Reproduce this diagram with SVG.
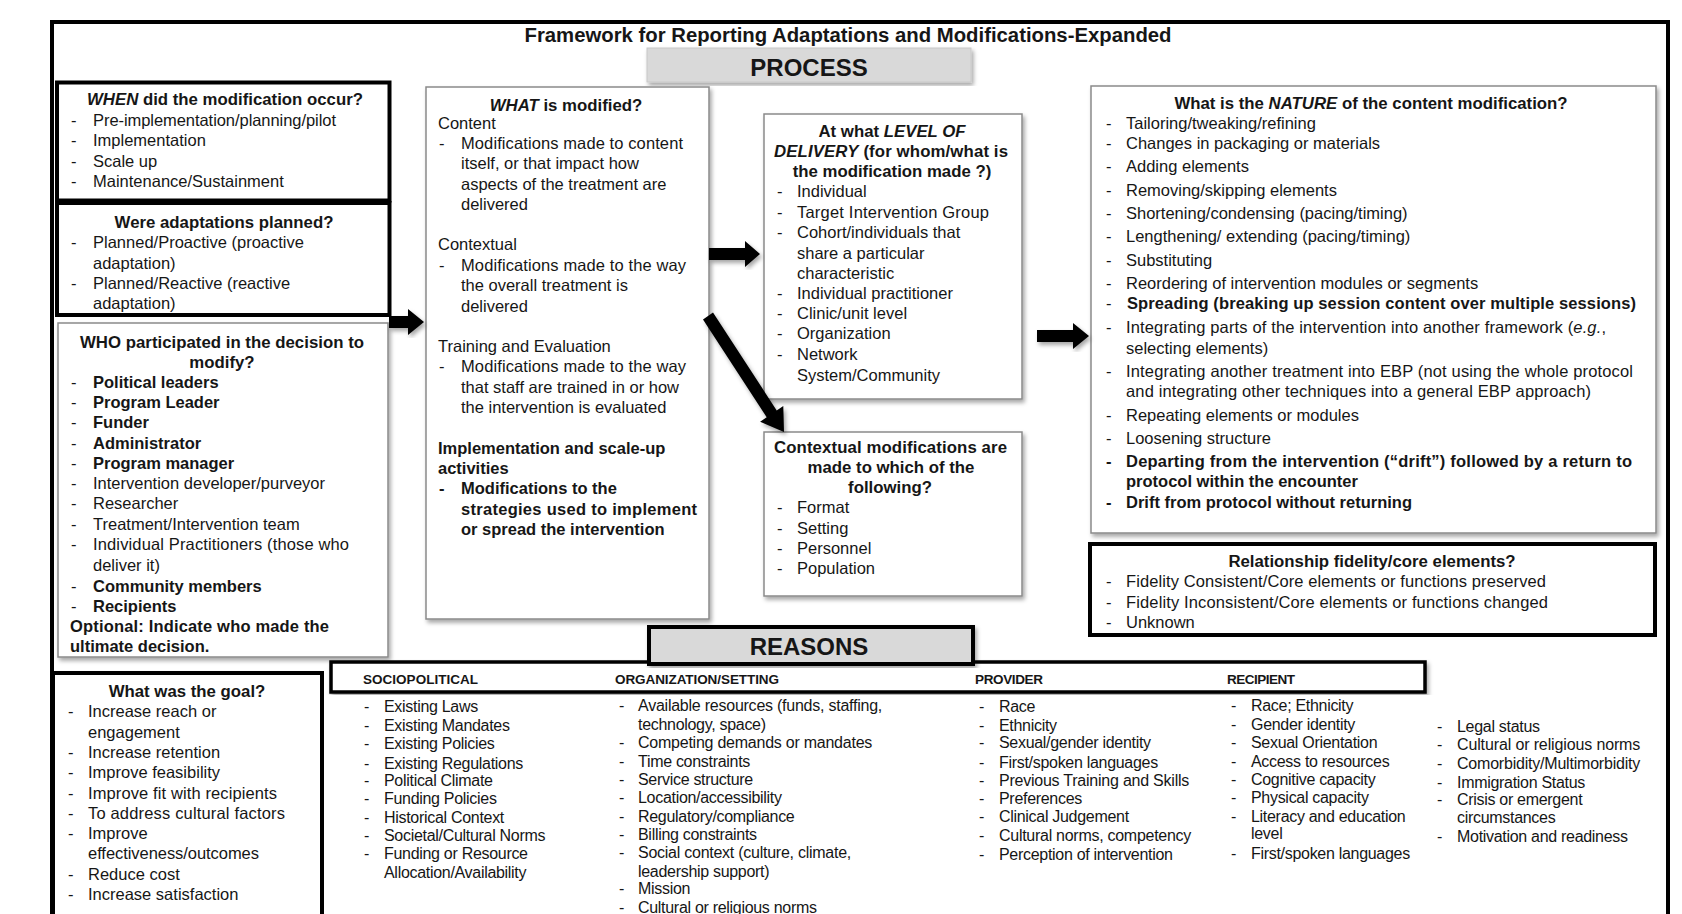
<svg xmlns="http://www.w3.org/2000/svg" width="1682" height="914" viewBox="0 0 1682 914">
<defs>
<filter id="sh" x="-10%" y="-10%" width="120%" height="120%">
<feDropShadow dx="2" dy="3" stdDeviation="2" flood-color="#000" flood-opacity="0.35"/>
</filter>
<style>
text{font-family:"Liberation Sans",Arial,sans-serif;font-size:16.5px;fill:#161616}
.b{font-weight:bold}
.i{font-style:italic}
.h{font-weight:bold;font-size:16.8px;text-anchor:middle}
.r{font-size:16px;letter-spacing:-0.3px}
.hd{font-weight:bold;font-size:13.5px}
.big{font-weight:bold;font-size:24px;text-anchor:middle}
.title{font-weight:bold;font-size:20px;text-anchor:middle}
.thin{fill:#fff;stroke:#8a8a8a;stroke-width:1.5;filter:url(#sh)}
.thick{fill:#fff;stroke:#000;stroke-width:4}
.gray{fill:#d9d9d9}
.arr{fill:#000;filter:url(#sh)}
</style>
</defs>
<rect width="1682" height="914" fill="#fff"/>
<g id="frame">
<rect x="52" y="22" width="1616" height="920" fill="none" stroke="#000" stroke-width="4"/>
<text x="848" y="42" class="title" textLength="647" lengthAdjust="spacingAndGlyphs">Framework for Reporting Adaptations and Modifications-Expanded</text>
</g>
<g id="process-label">
<rect x="647" y="48" width="324" height="34" class="gray" stroke="#c8c8c8" stroke-width="1" filter="url(#sh)"/>
<text x="809" y="76" class="big">PROCESS</text>
</g>
<g id="who-box">
<rect x="58" y="323" width="330" height="334" class="thin"/>
<text x="222" y="348" class="h" textLength="284">WHO participated in the decision to</text>
<text x="222" y="368" class="h">modify?</text>
<text x="71" y="388">-</text><text x="93" y="388" class="b">Political leaders</text>
<text x="71" y="408">-</text><text x="93" y="408" class="b">Program Leader</text>
<text x="71" y="428">-</text><text x="93" y="428" class="b">Funder</text>
<text x="71" y="449">-</text><text x="93" y="449" class="b">Administrator</text>
<text x="71" y="469">-</text><text x="93" y="469" class="b">Program manager</text>
<text x="71" y="489">-</text><text x="93" y="489" textLength="232">Intervention  developer/purveyor</text>
<text x="71" y="509">-</text><text x="93" y="509">Researcher</text>
<text x="71" y="530">-</text><text x="93" y="530">Treatment/Intervention  team</text>
<text x="71" y="550">-</text><text x="93" y="550" textLength="256">Individual  Practitioners (those who</text>
<text x="93" y="571">deliver  it)</text>
<text x="71" y="592">-</text><text x="93" y="592" class="b">Community  members</text>
<text x="71" y="612">-</text><text x="93" y="612" class="b">Recipients</text>
<text x="70" y="632" class="b" textLength="259">Optional: Indicate who made the</text>
<text x="70" y="652" class="b">ultimate decision.</text>
</g>
<g id="when-box">
<rect x="57" y="82.5" width="332.5" height="118" class="thick"/>
<text x="225" y="105" class="h"><tspan class="i">WHEN</tspan> did the modification occur?</text>
<text x="71" y="126">-</text><text x="93" y="126" textLength="243">Pre-implementation/planning/pilot</text>
<text x="71" y="146">-</text><text x="93" y="146">Implementation</text>
<text x="71" y="167">-</text><text x="93" y="167">Scale up</text>
<text x="71" y="187">-</text><text x="93" y="187">Maintenance/Sustainment</text>
</g>
<g id="planned-box">
<rect x="57" y="203" width="332.5" height="112" class="thick"/>
<text x="224" y="228" class="h">Were adaptations planned?</text>
<text x="71" y="248">-</text><text x="93" y="248">Planned/Proactive  (proactive</text>
<text x="93" y="269">adaptation)</text>
<text x="71" y="289">-</text><text x="93" y="289">Planned/Reactive  (reactive</text>
<text x="93" y="309">adaptation)</text>
</g>
<g id="what-box">
<rect x="426" y="87" width="283" height="532" class="thin"/>
<text x="566" y="111" class="h"><tspan class="i">WHAT</tspan> is modified?</text>
<text x="438" y="129">Content</text>
<text x="439" y="149">-</text><text x="461" y="149" textLength="222">Modifications made to content</text>
<text x="461" y="169">itself, or that impact how</text>
<text x="461" y="190">aspects of the treatment are</text>
<text x="461" y="210">delivered</text>
<text x="438" y="250">Contextual</text>
<text x="439" y="271">-</text><text x="461" y="271" textLength="225">Modifications made to the way</text>
<text x="461" y="291">the overall  treatment is</text>
<text x="461" y="312">delivered</text>
<text x="438" y="352">Training  and Evaluation</text>
<text x="439" y="372">-</text><text x="461" y="372" textLength="225">Modifications made to the way</text>
<text x="461" y="393">that staff are trained in or how</text>
<text x="461" y="413">the intervention  is evaluated</text>
<text x="438" y="454" class="b">Implementation and scale-up</text>
<text x="438" y="474" class="b">activities</text>
<text x="439" y="494" class="b">-</text><text x="461" y="494" class="b">Modifications to the</text>
<text x="461" y="515" class="b" textLength="236">strategies used to implement</text>
<text x="461" y="535" class="b">or spread the intervention</text>
</g>
<g id="level-box">
<rect x="764" y="114" width="258" height="285" class="thin"/>
<text x="892" y="137" class="h">At what <tspan class="i">LEVEL OF</tspan></text>
<text x="891" y="157" class="h" textLength="234"><tspan class="i">DELIVERY</tspan> (for whom/what is</text>
<text x="892" y="177" class="h">the modification made ?)</text>
<text x="777" y="197">-</text><text x="797" y="197">Individual</text>
<text x="777" y="218">-</text><text x="797" y="218" textLength="192">Target Intervention  Group</text>
<text x="777" y="238">-</text><text x="797" y="238">Cohort/individuals  that</text>
<text x="797" y="259">share a particular</text>
<text x="797" y="279">characteristic</text>
<text x="777" y="299">-</text><text x="797" y="299">Individual  practitioner</text>
<text x="777" y="319">-</text><text x="797" y="319">Clinic/unit level</text>
<text x="777" y="339">-</text><text x="797" y="339">Organization</text>
<text x="777" y="360">-</text><text x="797" y="360">Network</text>
<text x="797" y="381">System/Community</text>
</g>
<g id="contextual-box">
<rect x="764" y="432" width="258" height="164" class="thin"/>
<text x="890.5" y="453" class="h" textLength="233">Contextual modifications  are</text>
<text x="891" y="473" class="h">made to which of the</text>
<text x="890" y="493" class="h">following?</text>
<text x="777" y="513">-</text><text x="797" y="513">Format</text>
<text x="777" y="534">-</text><text x="797" y="534">Setting</text>
<text x="777" y="554">-</text><text x="797" y="554">Personnel</text>
<text x="777" y="574">-</text><text x="797" y="574">Population</text>
</g>
<g id="nature-box">
<rect x="1091" y="86" width="565" height="447" class="thin"/>
<text x="1371" y="109" class="h">What is the <tspan class="i">NATURE</tspan> of the content modification?</text>
<text x="1106" y="129">-</text><text x="1126" y="129">Tailoring/tweaking/refining</text>
<text x="1106" y="149">-</text><text x="1126" y="149">Changes  in packaging or materials</text>
<text x="1106" y="172">-</text><text x="1126" y="172">Adding elements</text>
<text x="1106" y="196">-</text><text x="1126" y="196">Removing/skipping  elements</text>
<text x="1106" y="219">-</text><text x="1126" y="219">Shortening/condensing  (pacing/timing)</text>
<text x="1106" y="242">-</text><text x="1126" y="242">Lengthening/  extending (pacing/timing)</text>
<text x="1106" y="266">-</text><text x="1126" y="266">Substituting</text>
<text x="1106" y="289">-</text><text x="1126" y="289">Reordering  of intervention  modules or segments</text>
<text x="1106" y="309">-</text><text x="1127" y="309" class="b" textLength="509">Spreading (breaking up session  content over multiple sessions)</text>
<text x="1106" y="333">-</text><text x="1126" y="333" textLength="480">Integrating parts of the intervention  into another framework (<tspan class="i">e.g.</tspan>,</text>
<text x="1126" y="354">selecting elements)</text>
<text x="1106" y="377">-</text><text x="1126" y="377" textLength="507">Integrating  another  treatment into EBP (not using the whole  protocol</text>
<text x="1126" y="397" textLength="465">and integrating other techniques into a general EBP approach)</text>
<text x="1106" y="421">-</text><text x="1126" y="421">Repeating  elements or  modules</text>
<text x="1106" y="444">-</text><text x="1126" y="444">Loosening  structure</text>
<text x="1106" y="467" class="b">-</text><text x="1126" y="467" class="b" textLength="506">Departing from the intervention (“drift”) followed by a return to</text>
<text x="1126" y="487" class="b">protocol  within the encounter</text>
<text x="1106" y="508" class="b">-</text><text x="1126" y="508" class="b">Drift from protocol  without returning</text>
</g>
<g id="fidelity-box">
<rect x="1090" y="544" width="565" height="91" class="thick"/>
<text x="1372" y="567" class="h">Relationship fidelity/core elements?</text>
<text x="1106" y="587">-</text><text x="1126" y="587" textLength="420">Fidelity Consistent/Core  elements or functions preserved</text>
<text x="1106" y="608">-</text><text x="1126" y="608" textLength="422">Fidelity Inconsistent/Core  elements or functions changed</text>
<text x="1106" y="628">-</text><text x="1126" y="628">Unknown</text>
</g>
<g id="reasons-header">
<rect x="331" y="662" width="1094" height="30" fill="#fff" stroke="#000" stroke-width="3.5" filter="url(#sh)"/>
<text x="363" y="684" class="hd" textLength="115">SOCIOPOLITICAL</text>
<text x="615" y="684" class="hd" textLength="164">ORGANIZATION/SETTING</text>
<text x="975" y="684" class="hd" textLength="68">PROVIDER</text>
<text x="1227" y="684" class="hd" textLength="68">RECIPIENT</text>
</g>
<g id="reasons-label">
<rect x="649" y="627" width="324" height="37" class="gray" stroke="#000" stroke-width="4" filter="url(#sh)"/>
<text x="809" y="655" class="big">REASONS</text>
</g>
<g id="goal-box">
<rect x="53" y="673" width="269" height="300" class="thick"/>
<text x="187" y="697" class="h">What was the goal?</text>
<text x="68" y="717">-</text><text x="88" y="717">Increase  reach  or</text>
<text x="88" y="738">engagement</text>
<text x="68" y="758">-</text><text x="88" y="758">Increase  retention</text>
<text x="68" y="778">-</text><text x="88" y="778">Improve  feasibility</text>
<text x="68" y="799">-</text><text x="88" y="799" textLength="189">Improve  fit with recipients</text>
<text x="68" y="819">-</text><text x="88" y="819" textLength="197">To  address  cultural  factors</text>
<text x="68" y="839">-</text><text x="88" y="839">Improve</text>
<text x="88" y="859" textLength="171">effectiveness/outcomes</text>
<text x="68" y="880">-</text><text x="88" y="880">Reduce  cost</text>
<text x="68" y="900">-</text><text x="88" y="900">Increase  satisfaction</text>
</g>
<g id="sociopolitical-list">
<text class="r" x="364" y="712">-</text><text class="r" x="384" y="712">Existing Laws</text>
<text class="r" x="364" y="731">-</text><text class="r" x="384" y="731">Existing Mandates</text>
<text class="r" x="364" y="749">-</text><text class="r" x="384" y="749">Existing Policies</text>
<text class="r" x="364" y="769">-</text><text class="r" x="384" y="769">Existing Regulations</text>
<text class="r" x="364" y="786">-</text><text class="r" x="384" y="786">Political Climate</text>
<text class="r" x="364" y="804">-</text><text class="r" x="384" y="804">Funding Policies</text>
<text class="r" x="364" y="823">-</text><text class="r" x="384" y="823">Historical Context</text>
<text class="r" x="364" y="841">-</text><text class="r" x="384" y="841">Societal/Cultural Norms</text>
<text class="r" x="364" y="859">-</text><text class="r" x="384" y="859">Funding or Resource</text>
<text class="r" x="384" y="878">Allocation/Availability</text>
</g>
<g id="organization-list">
<text class="r" x="619" y="711">-</text><text class="r" x="638" y="711" textLength="244">Available resources (funds, staffing,</text>
<text class="r" x="638" y="730">technology, space)</text>
<text class="r" x="619" y="748">-</text><text class="r" x="638" y="748" textLength="234">Competing demands or mandates</text>
<text class="r" x="619" y="767">-</text><text class="r" x="638" y="767">Time constraints</text>
<text class="r" x="619" y="785">-</text><text class="r" x="638" y="785">Service structure</text>
<text class="r" x="619" y="803">-</text><text class="r" x="638" y="803">Location/accessibility</text>
<text class="r" x="619" y="822">-</text><text class="r" x="638" y="822">Regulatory/compliance</text>
<text class="r" x="619" y="840">-</text><text class="r" x="638" y="840">Billing constraints</text>
<text class="r" x="619" y="858">-</text><text class="r" x="638" y="858" textLength="213">Social context (culture, climate,</text>
<text class="r" x="638" y="877">leadership support)</text>
<text class="r" x="619" y="894">-</text><text class="r" x="638" y="894">Mission</text>
<text class="r" x="619" y="913">-</text><text class="r" x="638" y="913">Cultural or religious norms</text>
</g>
<g id="provider-list">
<text class="r" x="979" y="712">-</text><text class="r" x="999" y="712">Race</text>
<text class="r" x="979" y="731">-</text><text class="r" x="999" y="731">Ethnicity</text>
<text class="r" x="979" y="748">-</text><text class="r" x="999" y="748">Sexual/gender identity</text>
<text class="r" x="979" y="768">-</text><text class="r" x="999" y="768">First/spoken languages</text>
<text class="r" x="979" y="786">-</text><text class="r" x="999" y="786" textLength="190">Previous Training and Skills</text>
<text class="r" x="979" y="804">-</text><text class="r" x="999" y="804">Preferences</text>
<text class="r" x="979" y="822">-</text><text class="r" x="999" y="822">Clinical Judgement</text>
<text class="r" x="979" y="841">-</text><text class="r" x="999" y="841" textLength="192">Cultural norms, competency</text>
<text class="r" x="979" y="860">-</text><text class="r" x="999" y="860">Perception of intervention</text>
</g>
<g id="recipient-list">
<text class="r" x="1231" y="711">-</text><text class="r" x="1251" y="711">Race; Ethnicity</text>
<text class="r" x="1231" y="730">-</text><text class="r" x="1251" y="730">Gender identity</text>
<text class="r" x="1231" y="748">-</text><text class="r" x="1251" y="748">Sexual Orientation</text>
<text class="r" x="1231" y="767">-</text><text class="r" x="1251" y="767">Access to resources</text>
<text class="r" x="1231" y="785">-</text><text class="r" x="1251" y="785">Cognitive capacity</text>
<text class="r" x="1231" y="803">-</text><text class="r" x="1251" y="803">Physical capacity</text>
<text class="r" x="1231" y="822">-</text><text class="r" x="1251" y="822">Literacy and education</text>
<text class="r" x="1251" y="839">level</text>
<text class="r" x="1231" y="859">-</text><text class="r" x="1251" y="859">First/spoken languages</text>
</g>
<g id="recipient-list-2">
<text class="r" x="1437" y="732">-</text><text class="r" x="1457" y="732">Legal status</text>
<text class="r" x="1437" y="750">-</text><text class="r" x="1457" y="750" textLength="183">Cultural or religious norms</text>
<text class="r" x="1437" y="769">-</text><text class="r" x="1457" y="769" textLength="183">Comorbidity/Multimorbidity</text>
<text class="r" x="1437" y="788">-</text><text class="r" x="1457" y="788">Immigration Status</text>
<text class="r" x="1437" y="805">-</text><text class="r" x="1457" y="805">Crisis or emergent</text>
<text class="r" x="1457" y="823">circumstances</text>
<text class="r" x="1437" y="842">-</text><text class="r" x="1457" y="842">Motivation  and readiness</text>
</g>
<g id="connectors">
<polygon class="arr" points="389,316 408,316 408,309 424,322 408,335 408,328 389,328"/>
<polygon class="arr" points="709,248 745,248 745,241 760,254 745,267 745,260 709,260"/>
<polygon class="arr" points="713,312.6 776.7,410.4 783.3,405.9 784,432 760.1,421.7 766.7,417.2 703,319.4"/>
<polygon class="arr" points="1037,330 1073,330 1073,323 1089,336 1073,349 1073,342 1037,342"/>
</g>
</svg>
